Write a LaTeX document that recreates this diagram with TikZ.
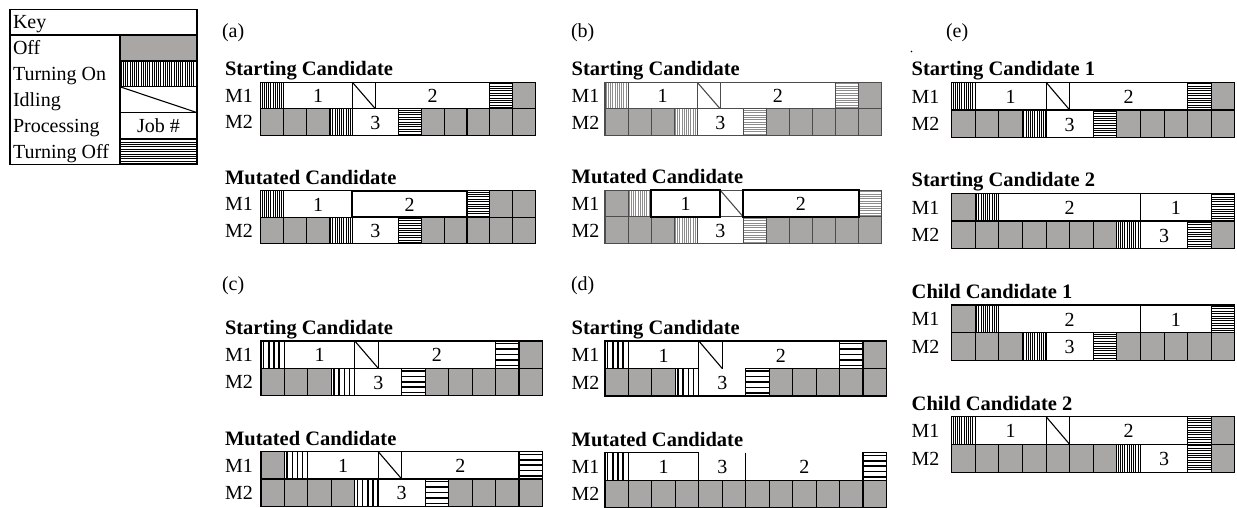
\documentclass[tikz,border=0pt]{standalone}
\usepackage{fontspec}
\setmainfont{Liberation Serif}
\definecolor{offgray}{RGB}{169,166,166}
\newcommand\CX{0}\newcommand\CW{0}\newcommand\RH{0}
\newcommand\VSP{2.2}\newcommand\HSP{2.4}\newcommand\PLW{0.6pt}
\newcommand\LC{black}\newcommand\PC{black}
\newcommand\setpanel[3]{\renewcommand\CX{#1}\renewcommand\CW{#2}\renewcommand\RH{#3}}
\newcommand\finepat{\renewcommand\VSP{2.2}\renewcommand\HSP{2.4}\renewcommand\PLW{0.6pt}}
\newcommand\coarsepat{\renewcommand\VSP{5.2}\renewcommand\HSP{5.4}\renewcommand\PLW{1.5pt}}
% off cells: y, start, count
\newcommand\cOff[3]{\foreach \i in {1,...,#3}{\path[cellb,fill=offgray] ({\CX+(#2+\i-1)*\CW},#1) rectangle ++(\CW,\RH);}}
% turning on: y, index
\newcommand\cOn[2]{\begin{scope}\clip ({\CX+#2*\CW},#1) rectangle ++(\CW,\RH);
  \fill[white] ({\CX+#2*\CW},#1) rectangle ++(\CW,\RH);
  \foreach \k in {0,...,40}{\draw[patl] ({\CX+#2*\CW+(\k+0.5)*\VSP},#1) -- ++(0,\RH);}\end{scope}
  \path[cellb] ({\CX+#2*\CW},#1) rectangle ++(\CW,\RH);}
% turning off: y, index
\newcommand\cOffT[2]{\begin{scope}\clip ({\CX+#2*\CW},#1) rectangle ++(\CW,\RH);
  \fill[white] ({\CX+#2*\CW},#1) rectangle ++(\CW,\RH);
  \foreach \k in {0,...,14}{\draw[patl] ({\CX+#2*\CW},{#1+(\k+0.5)*\HSP}) -- ++(\CW,0);}\end{scope}
  \path[cellb] ({\CX+#2*\CW},#1) rectangle ++(\CW,\RH);}
% idling: y, index
\newcommand\cIdle[2]{\path[cellb,fill=white] ({\CX+#2*\CW},#1) rectangle ++(\CW,\RH);
  \draw[cellb] ({\CX+#2*\CW},#1) -- ++(\CW,\RH);}
% job: y, start, count, label, name
\newcommand\cJob[5]{\path[cellb,fill=white] ({\CX+#2*\CW},#1) rectangle ++({#3*\CW},\RH);
  \node[jobt] (#5) at ({\CX+(#2+#3/2)*\CW},{#1+\RH/2+7.3}) {#4};}
\newcommand\cJobT[5]{\path[cellb,line width=2pt,draw=black,fill=white] ({\CX+#2*\CW},#1) rectangle ++({#3*\CW},\RH);
  \node[jobt] (#5) at ({\CX+(#2+#3/2)*\CW},{#1+\RH/2+7.3}) {#4};}
% title + machine labels: x, y1, title, name
\newcommand\heads[4]{\node[ttl] (#4) at (#1,{#2-6.5}) {#3};
  \node[ml] (#4-m1) at (#1,{#2+\RH/2+7}) {M1};
  \node[ml] (#4-m2) at (#1,{#2+1.5*\RH+7}) {M2};}
\begin{document}
\begin{tikzpicture}[x=1pt,y=-1pt,
  every node/.style={inner sep=0pt,outer sep=0pt},
  cellb/.style={draw=\LC,line width=1.1pt},
  patl/.style={draw=\PC,line width=\PLW},
  jobt/.style={anchor=base,font=\fontsize{20}{24}\selectfont},
  ttl/.style={anchor=base west,font=\fontsize{20.5}{24}\selectfont\bfseries},
  ml/.style={anchor=base west,font=\fontsize{20}{24}\selectfont},
  plab/.style={anchor=base west,font=\fontsize{20}{24}\selectfont},
  keyt/.style={anchor=base west,font=\fontsize{20}{24}\selectfont}]
\useasboundingbox (0,0) rectangle (1237,508);
\fill[white] (0,0) rectangle (1237,508);

% ---------------- Key ----------------
\setpanel{120}{77}{25.8}
\finepat
\fill[offgray] (120,35) rectangle (197,61);
\cOn{61}{0}
\cIdle{86.8}{0}
\cJob{112.6}{0}{1}{Job \#}{keyjob}
\cOffT{138.4}{0}
\draw[cellb] (120,35) rectangle (197,61);
\draw[cellb] (10,9.3) rectangle (197,164.2);
\draw[cellb] (10,35) -- (197,35);
\draw[cellb] (120,35) -- (120,164.2);
\node[keyt] (k0) at (13,29) {Key};
\node[keyt] (k1) at (13,55) {Off};
\node[keyt] (k2) at (13,81) {Turning On};
\node[keyt] (k3) at (13,106.5) {Idling};
\node[keyt] (k4) at (13,132.5) {Processing};
\node[keyt] (k5) at (13,158) {Turning Off};

% ---------------- panel labels ----------------
\node[plab] (la) at (222,38) {(a)};
\node[plab] (lb) at (571,38) {(b)};
\node[plab] (lc) at (222,290) {(c)};
\node[plab] (ld) at (571,290) {(d)};
\node[plab] (le) at (946,38) {(e)};
\fill (911.5,51.5) circle (0.8);

% ---------------- (a) ----------------
\setpanel{260.7}{22.92}{26.4}
\finepat
\heads{225}{82.3}{Starting Candidate}{aS}
\cOn{82.3}{0} \cJob{82.3}{1}{3}{1}{aSj1} \cIdle{82.3}{4} \cJob{82.3}{5}{5}{2}{aSj2} \cOffT{82.3}{10} \cOff{82.3}{11}{1}
\cOff{108.7}{0}{3} \cOn{108.7}{3} \cJob{108.7}{4}{2}{3}{aSj3} \cOffT{108.7}{6} \cOff{108.7}{7}{5}
\heads{225}{190.7}{Mutated Candidate}{aM}
\cOn{190.7}{0} \cJob{190.7}{1}{3}{1}{aMj1} \cOffT{190.7}{9} \cOff{190.7}{10}{2}
\cOff{217.1}{0}{3} \cOn{217.1}{3} \cJob{217.1}{4}{2}{3}{aMj3} \cOffT{217.1}{6} \cOff{217.1}{7}{5}
\cJobT{190.7}{4}{5}{2}{aMj2}

% ---------------- (b) ----------------
\setpanel{605}{23.05}{26.6}
\renewcommand\LC{black!70}\renewcommand\PC{black!45}
\heads{571.7}{82.3}{Starting Candidate}{bS}
\cOn{82.3}{0} \cJob{82.3}{1}{3}{1}{bSj1} \cIdle{82.3}{4} \cJob{82.3}{5}{5}{2}{bSj2} \cOffT{82.3}{10} \cOff{82.3}{11}{1}
\cOff{108.9}{0}{3} \cOn{108.9}{3} \cJob{108.9}{4}{2}{3}{bSj3} \cOffT{108.9}{6} \cOff{108.9}{7}{5}
\heads{571.7}{190.3}{Mutated Candidate}{bM}
\cOff{190.3}{0}{1} \cOn{190.3}{1} \cIdle{190.3}{5} \cOffT{190.3}{11}
\cOff{216.9}{0}{3} \cOn{216.9}{3} \cJob{216.9}{4}{2}{3}{bMj3} \cOffT{216.9}{6} \cOff{216.9}{7}{5}
\cJobT{190.3}{2}{3}{1}{bMj1} \cJobT{190.3}{6}{5}{2}{bMj2}
\renewcommand\LC{black}\renewcommand\PC{black}

% ---------------- (c) ----------------
\setpanel{261}{23.45}{27.3}
\coarsepat
\heads{225}{341}{Starting Candidate}{cS}
\cOn{341}{0} \cJob{341}{1}{3}{1}{cSj1} \cIdle{341}{4} \cJob{341}{5}{5}{2}{cSj2} \cOffT{341}{10} \cOff{341}{11}{1}
\cOff{368.3}{0}{3} \cOn{368.3}{3} \cJob{368.3}{4}{2}{3}{cSj3} \cOffT{368.3}{6} \cOff{368.3}{7}{5}
\heads{225}{451.7}{Mutated Candidate}{cM}
\cOff{451.7}{0}{1} \cOn{451.7}{1} \cJob{451.7}{2}{3}{1}{cMj1} \cIdle{451.7}{5} \cJob{451.7}{6}{5}{2}{cMj2} \cOffT{451.7}{11}
\cOff{479}{0}{4} \cOn{479}{4} \cJob{479}{5}{2}{3}{cMj3} \cOffT{479}{7} \cOff{479}{8}{4}

% ---------------- (d) ----------------
\setpanel{605}{23.45}{27.5}
\heads{571.7}{341}{Starting Candidate}{dS}
% M1
\cOn{341}{0} \cJob{341}{1}{3}{1}{dSj1}
\fill[white] (698.8,341) rectangle (839.5,368.5);
\draw[cellb] (698.8,368.5) -- (698.8,341) -- (839.5,341) -- (839.5,368.5);
\draw[cellb] (698.8,341) -- (722.25,368.5);
\draw[cellb] (722.25,341) -- (722.25,368.5);
\node[jobt] (dSj2) at (780.9,{341+13.75+7.3}) {2};
\cOffT{341}{10} \cOff{341}{11}{1}
% M2
\cOff{368.5}{0}{3} \cOn{368.5}{3}
\fill[white] (698.8,368.5) rectangle (745.7,396);
\draw[cellb] (698.8,368.5) -- (698.8,396) -- (745.7,396) -- (745.7,368.5);
\node[jobt] (dSj3) at (722.25,{368.5+13.75+7.3}) {3};
\cOffT{368.5}{6} \cOff{368.5}{7}{5}
\heads{571.7}{452.7}{Mutated Candidate}{dM}
\cOn{452.7}{0} \cJob{452.7}{1}{3}{1}{dMj1}
\draw[cellb] (745.7,452.7) -- (745.7,480.2);
\node[jobt] (dMj3) at (722.25,{452.7+13.75+7.3}) {3};
\node[jobt] (dMj2) at (804.3,{452.7+13.75+7.3}) {2};
\cOffT{452.7}{11}
\cOff{480.2}{0}{12}

% ---------------- (e) ----------------
\setpanel{951.7}{23.6}{27.7}
\finepat
\heads{911.7}{82.3}{Starting Candidate 1}{eS1}
\cOn{82.3}{0} \cJob{82.3}{1}{3}{1}{eS1j1} \cIdle{82.3}{4} \cJob{82.3}{5}{5}{2}{eS1j2} \cOffT{82.3}{10} \cOff{82.3}{11}{1}
\cOff{110}{0}{3} \cOn{110}{3} \cJob{110}{4}{2}{3}{eS1j3} \cOffT{110}{6} \cOff{110}{7}{5}
\heads{911.7}{193.3}{Starting Candidate 2}{eS2}
\cOff{193.3}{0}{1} \cOn{193.3}{1} \cJob{193.3}{2}{6}{2}{eS2j2} \cJob{193.3}{8}{3}{1}{eS2j1} \cOffT{193.3}{11}
\cOff{221}{0}{7} \cOn{221}{7} \cJob{221}{8}{2}{3}{eS2j3} \cOffT{221}{10} \cOff{221}{11}{1}
\heads{911.7}{305}{Child Candidate 1}{eC1}
\cOff{305}{0}{1} \cOn{305}{1} \cJob{305}{2}{6}{2}{eC1j2} \cJob{305}{8}{3}{1}{eC1j1} \cOffT{305}{11}
\cOff{332.7}{0}{3} \cOn{332.7}{3} \cJob{332.7}{4}{2}{3}{eC1j3} \cOffT{332.7}{6} \cOff{332.7}{7}{5}
\heads{911.7}{416.7}{Child Candidate 2}{eC2}
\cOn{416.7}{0} \cJob{416.7}{1}{3}{1}{eC2j1} \cIdle{416.7}{4} \cJob{416.7}{5}{5}{2}{eC2j2} \cOffT{416.7}{10} \cOff{416.7}{11}{1}
\cOff{444.4}{0}{7} \cOn{444.4}{7} \cJob{444.4}{8}{2}{3}{eC2j3} \cOffT{444.4}{10} \cOff{444.4}{11}{1}
\end{tikzpicture}
\end{document}
